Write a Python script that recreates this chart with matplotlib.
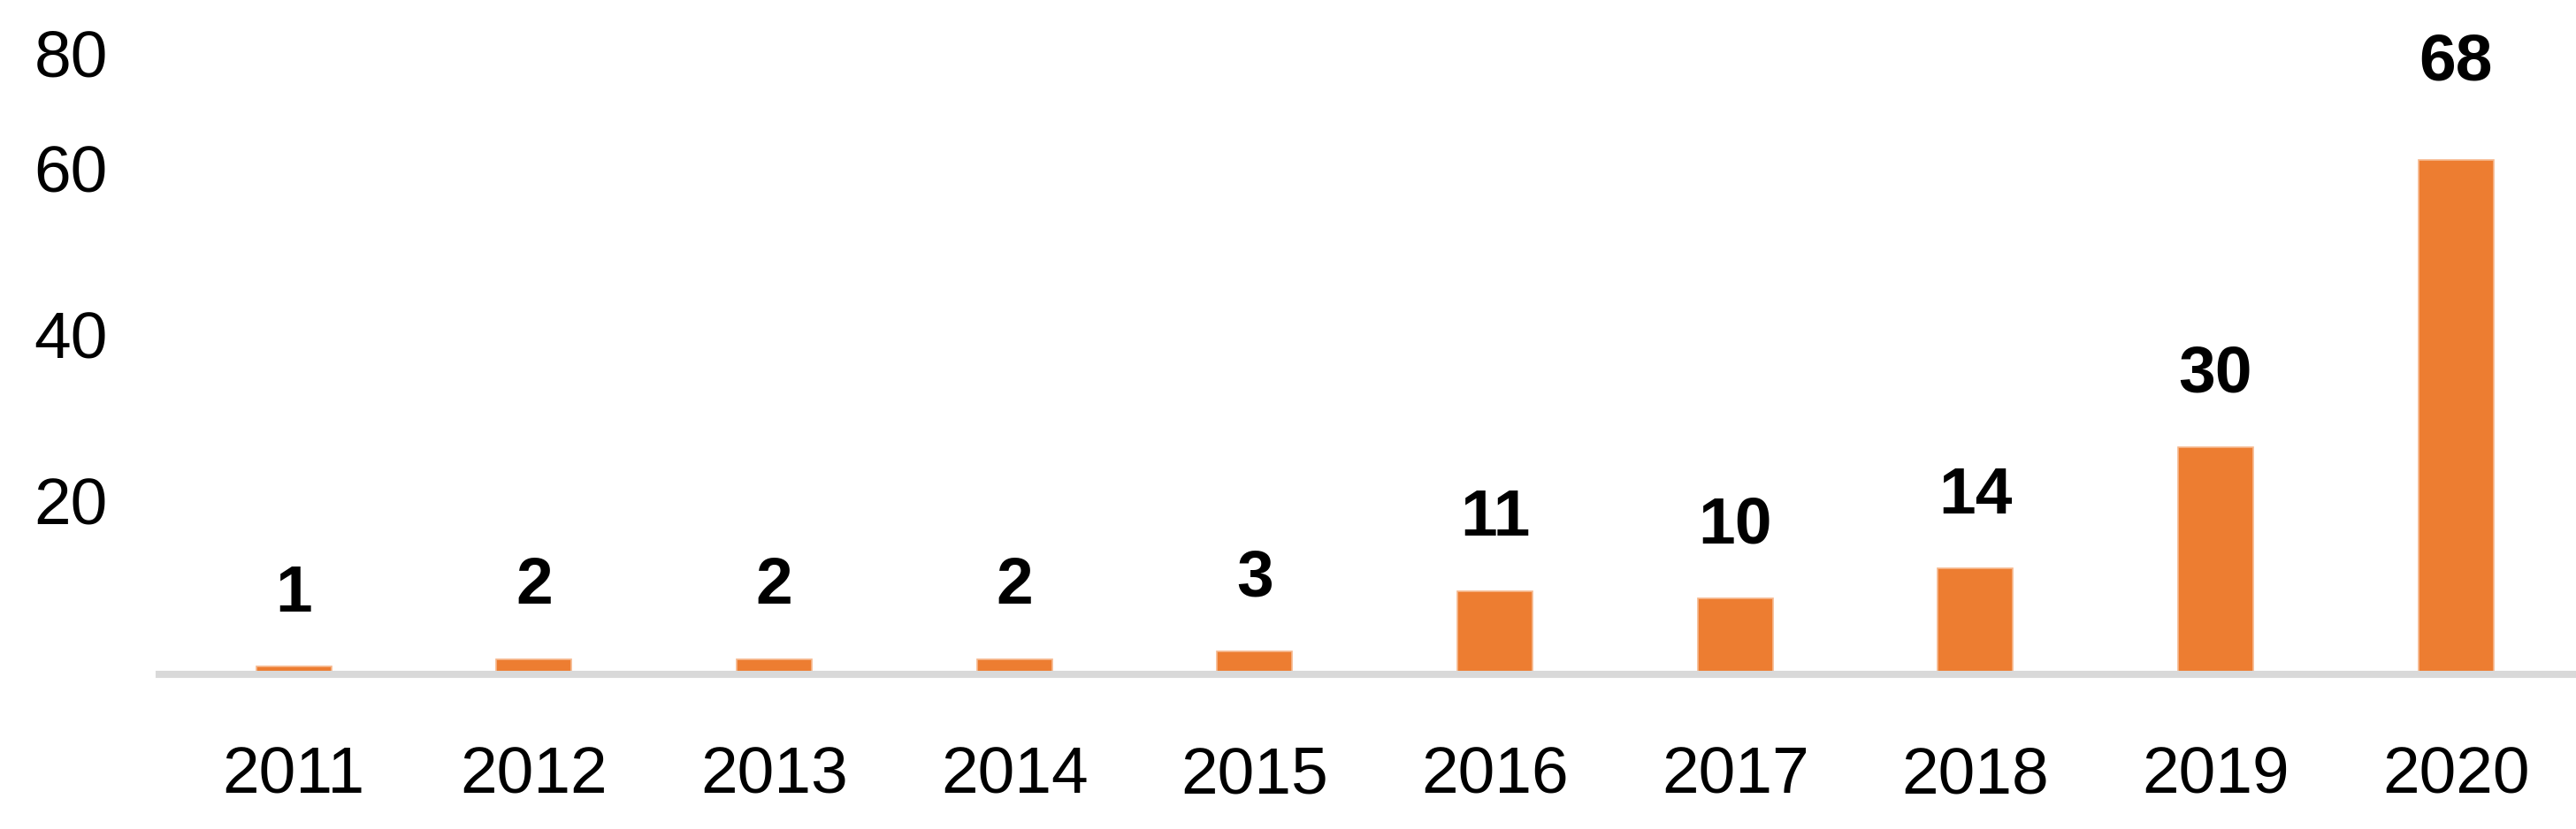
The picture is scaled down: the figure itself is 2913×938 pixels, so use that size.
import matplotlib.pyplot as plt
import numpy as np

years = ["2011", "2012", "2013", "2014", "2015", "2016", "2017", "2018", "2019", "2020"]
counts = [1, 2, 2, 2, 3, 11, 10, 14, 30, 68]

# y labels as they sit in the picture (not evenly spaced)
ytick_pos = [23.0, 44.9, 66.8, 82.2]
ytick_labels = ["20", "40", "60", "80"]

plt.rcParams['font.family'] = ['Liberation Sans', 'DejaVu Sans']

fig = plt.figure(figsize=(29.13, 9.38), dpi=100)
ax = fig.add_axes([180/2913, (938-763)/938, (2913-180)/2913, 763/938])

x = np.arange(len(years))
bars = ax.bar(x, counts, width=0.313, color="#ED7D31", edgecolor="#F6B88E", linewidth=1.2, zorder=2)

for i, (b, v) in enumerate(zip(bars, counts)):
    off = 45 if v != 68 else 65
    ax.annotate(str(v), (b.get_x() + b.get_width()/2, v), xytext=(0, off),
                textcoords="offset points", ha="center", va="baseline",
                fontsize=54, fontweight="bold", color="black")

ax.set_xlim(-0.56, 9.5)
ax.set_ylim(0, 89.1)
ax.set_xticks(x)
ax.set_xticklabels(years)
ax.set_yticks(ytick_pos)
ax.set_yticklabels(ytick_labels)
ax.tick_params(axis="x", length=0, pad=58, labelsize=54)
ax.tick_params(axis="y", length=0, pad=42, labelsize=54)

for s in ["top", "right", "left"]:
    ax.spines[s].set_visible(False)
ax.spines["bottom"].set_color("#D9D9D9")
ax.spines["bottom"].set_linewidth(5.8)
ax.spines["bottom"].set_zorder(3)

fig.savefig("out.png", dpi=100)
